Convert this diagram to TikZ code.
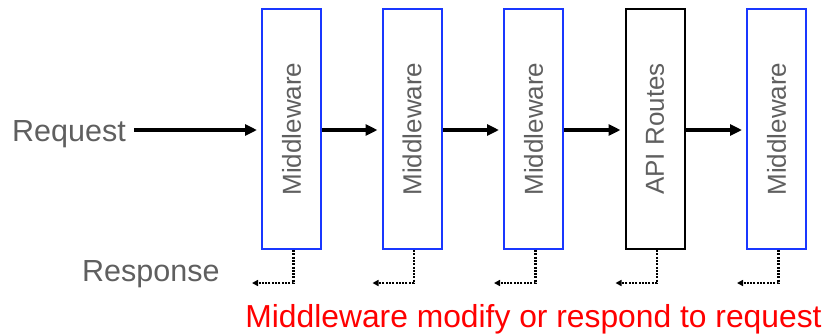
\documentclass[tikz,border=0pt]{standalone}
\usepackage{fontspec}
\setmainfont{Liberation Sans}
\usepackage{graphicx}
\usetikzlibrary{arrows.meta,calc}
\definecolor{boxblue}{RGB}{25,55,255}
\definecolor{txtgrey}{RGB}{95,95,95}
\definecolor{notered}{RGB}{255,0,0}
\begin{document}
\begin{tikzpicture}[x=1pt,y=-1pt,
  stage/.style={draw=boxblue,line width=2pt,minimum width=59pt,minimum height=240pt,inner sep=0pt,
    text=txtgrey,font=\fontsize{26}{30}\selectfont},
  apibox/.style={stage,draw=black},
  flow/.style={line width=3.2pt,-{Triangle[length=12pt,width=11pt]},shorten >=4pt},
  back/.style={line width=2.2pt,dash pattern=on 2pt off 1.3pt,draw=black,
    -{Triangle[length=6pt,width=6pt]}},
  lbl/.style={text=txtgrey,font=\fontsize{30.5}{34}\selectfont,inner sep=0pt}
]
\useasboundingbox (0,0) rectangle (829,333);

\node[lbl,anchor=base west] (req) at (12,141) {Request};
\node[lbl,anchor=base west] (resp) at (82,281) {Response};

\node[stage] (m1) at (291.5,129) {\rotatebox{90}{Middleware}};
\node[stage] (m2) at (412,129) {\rotatebox{90}{Middleware}};
\node[stage] (m3) at (533.5,129) {\rotatebox{90}{Middleware}};
\node[apibox] (api) at (655,129) {\rotatebox{90}{API Routes}};
\node[stage] (m5) at (776.5,129) {\rotatebox{90}{Middleware}};

\draw[flow] (req.east |- 0,130) ++(8,0) coordinate (rs) -- (m1.west |- rs);
\draw[flow] (m1.east |- 0,130) -- (m2.west |- 0,130);
\draw[flow] (m2.east |- 0,130) -- (m3.west |- 0,130);
\draw[flow] (m3.east |- 0,130) -- (api.west |- 0,130);
\draw[flow] (api.east |- 0,130) -- (m5.west |- 0,130);

\foreach \b in {m1,m2,m3,api,m5}{
  \coordinate (\b-d) at ($(\b.south)+(2,0)$);
  \coordinate (\b-c) at ($(\b.south west)+(-9,33)$);
  \draw[back] (\b-d) |- (\b-c);
}

\node[text=notered,font=\fontsize{31.8}{36}\selectfont,inner sep=0pt,anchor=base] (note) at (533.5,327)
  {Middleware modify or respond to request};
\end{tikzpicture}
\end{document}
